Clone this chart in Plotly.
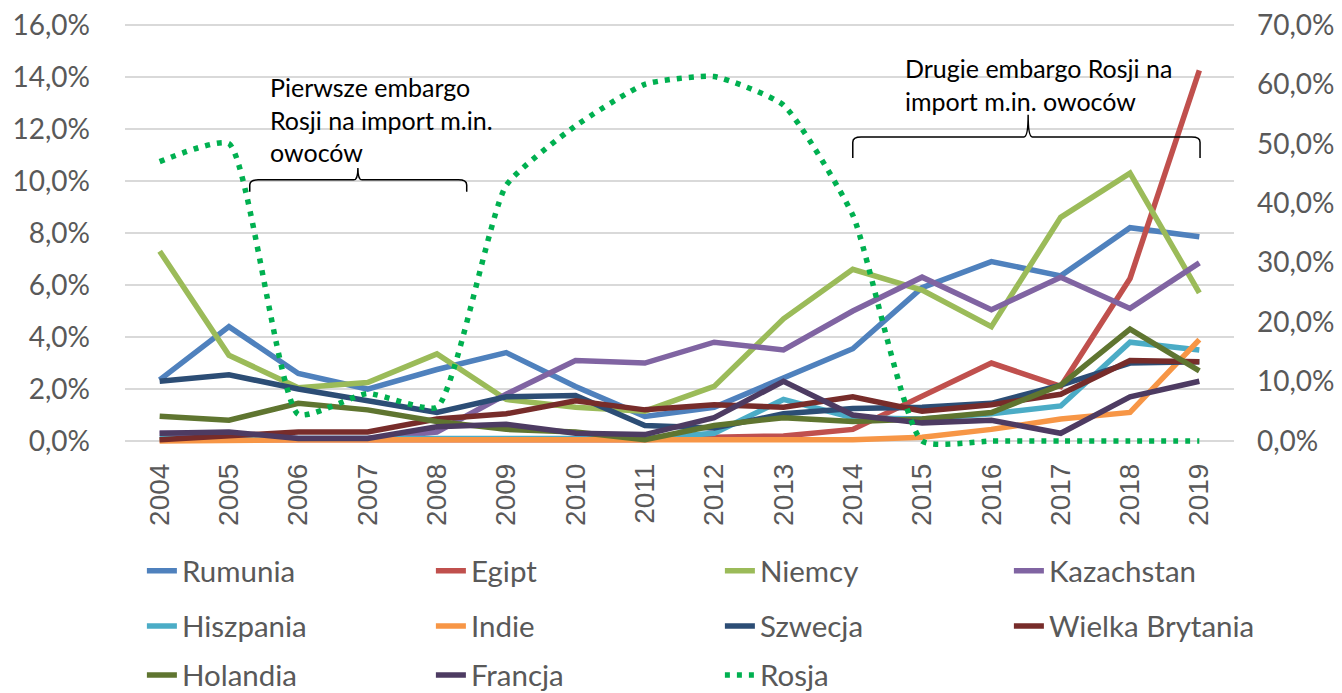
import plotly.graph_objects as go

# ---------------- data ----------------
years = list(range(2004, 2020))
year_labels = [str(y) for y in years]

rumunia = [2.35, 4.4, 2.6, 2.0, 2.75, 3.4, 2.1, 0.95, 1.3, 2.45, 3.55, 5.9, 6.9, 6.35, 8.2, 7.85]
egipt = [0.05, 0.05, 0.05, 0.05, 0.05, 0.05, 0.05, 0.05, 0.15, 0.2, 0.45, 1.75, 3.0, 2.1, 6.25, 14.25]
niemcy = [7.3, 3.3, 2.05, 2.25, 3.35, 1.6, 1.3, 1.15, 2.1, 4.7, 6.6, 5.8, 4.4, 8.6, 10.3, 5.7]
kazachstan = [0.3, 0.3, 0.1, 0.1, 0.35, 1.8, 3.1, 3.0, 3.8, 3.5, 5.0, 6.3, 5.05, 6.3, 5.1, 6.85]
hiszpania = [0.1, 0.1, 0.1, 0.1, 0.1, 0.1, 0.1, 0.1, 0.3, 1.6, 0.9, 0.85, 1.05, 1.35, 3.8, 3.5]
indie = [0.0, 0.05, 0.05, 0.05, 0.05, 0.05, 0.05, 0.05, 0.05, 0.05, 0.05, 0.15, 0.45, 0.85, 1.1, 3.9]
szwecja = [2.3, 2.55, 2.0, 1.55, 1.1, 1.7, 1.75, 0.6, 0.5, 1.05, 1.25, 1.3, 1.45, 2.15, 3.0, 3.05]
wielka_brytania = [0.05, 0.2, 0.35, 0.35, 0.85, 1.05, 1.55, 1.2, 1.4, 1.3, 1.7, 1.15, 1.4, 1.8, 3.1, 3.05]
holandia = [0.95, 0.8, 1.45, 1.2, 0.75, 0.45, 0.35, 0.05, 0.6, 0.9, 0.75, 0.85, 1.1, 2.15, 4.3, 2.7]
francja = [0.3, 0.35, 0.1, 0.1, 0.55, 0.65, 0.3, 0.25, 0.9, 2.3, 1.0, 0.7, 0.8, 0.3, 1.7, 2.3]
rosja = [47.0, 50.0, 4.5, 8.0, 5.7, 43.0, 53.0, 60.0, 61.3, 56.5, 38.0, 0.0, 0.0, 0.0, 0.0, 0.0]

left_ticks = [0, 2, 4, 6, 8, 10, 12, 14, 16]
left_labels = ["0,0%", "2,0%", "4,0%", "6,0%", "8,0%", "10,0%", "12,0%", "14,0%", "16,0%"]
right_ticks = [0, 10, 20, 30, 40, 50, 60, 70]
right_labels = ["0,0%", "10,0%", "20,0%", "30,0%", "40,0%", "50,0%", "60,0%", "70,0%"]

note_first = "Pierwsze embargo<br>Rosji na import m.in.<br>owoców"
note_second = "Drugie embargo Rosji na<br>import m.in. owoców"

# ---------------- styles ----------------
series = [
    ("Rumunia", rumunia, "#4F81BD", "legend"),
    ("Egipt", egipt, "#C0504D", "legend"),
    ("Niemcy", niemcy, "#9BBB59", "legend"),
    ("Kazachstan", kazachstan, "#8064A2", "legend"),
    ("Hiszpania", hiszpania, "#4BACC6", "legend2"),
    ("Indie", indie, "#F79646", "legend2"),
    ("Szwecja", szwecja, "#2C4D75", "legend2"),
    ("Wielka Brytania", wielka_brytania, "#772C2A", "legend2"),
    ("Holandia", holandia, "#5F7530", "legend3"),
    ("Francja", francja, "#4D3B62", "legend3"),
]

fig = go.Figure()
for name, vals, color, leg in series:
    fig.add_trace(go.Scatter(
        x=years, y=vals, name=name, mode="lines",
        line=dict(color=color, width=5.5), legend=leg, yaxis="y",
    ))
fig.add_trace(go.Scatter(
    x=years, y=rosja, name="Rosja", mode="lines",
    line=dict(color="#00B050", width=5.5, dash="5px,7px", shape="spline", smoothing=0.5),
    legend="legend3", yaxis="y2",
))

TICK_COLOR = "#595959"
FONT = "Lato"

# padding below zero so the smoothed Rosja line is not clipped,
# and a little above the top so the top gridline is drawn
R2_MIN = -1.5
R2_MAX = 70
L_MAX = 16
L_MIN = R2_MIN * L_MAX / R2_MAX
EPS = 0.3
PX_PER_UNIT = 416 / L_MAX


def brace(x0, x1, xm, yh, yend, ytip, rx=0.12, ry=0.2):
    return (
        f"M {x0},{yend} L {x0},{yh - ry} Q {x0},{yh} {x0 + rx},{yh} "
        f"L {xm - rx / 2},{yh} Q {xm},{yh} {xm},{ytip} "
        f"Q {xm},{yh} {xm + rx / 2},{yh} "
        f"L {x1 - rx},{yh} Q {x1},{yh} {x1},{yh - ry} L {x1},{yend}"
    )


shapes = [
    dict(type="path", xref="x", yref="y",
         path=brace(2005.30, 2008.43, 2006.86, 10.04, 9.58, 10.5),
         line=dict(color="black", width=1.5)),
    dict(type="path", xref="x", yref="y",
         path=brace(2014.0, 2019.01, 2016.53, 11.69, 10.88, 12.54),
         line=dict(color="black", width=1.5)),
]

annotations = [
    dict(x=2005.57, y=12.35, xref="x", yref="y", text=note_first, showarrow=False,
         xanchor="left", yanchor="middle", align="left",
         font=dict(family=FONT, size=25, color="black")),
    dict(x=2014.73, y=13.7, xref="x", yref="y", text=note_second, showarrow=False,
         xanchor="left", yanchor="middle", align="left",
         font=dict(family=FONT, size=25, color="black")),
]

leg_common = dict(
    orientation="h", x=-0.001, xanchor="left", yanchor="middle",
    font=dict(family=FONT, size=29.5, color=TICK_COLOR),
    entrywidth=226, entrywidthmode="pixels", indentation=18,
    bgcolor="rgba(0,0,0,0)",
)

# page body has an 8px margin: figure is offset by (8, 8)
W, H = 1334, 685
PLOT_L, PLOT_W = 117, 1109
PLOT_T = 17 - EPS * PX_PER_UNIT
PLOT_H = (L_MAX + EPS - L_MIN) * PX_PER_UNIT
BOTTOM_PX = PLOT_T + PLOT_H  # plot bottom in figure px


def legend_y(row_center_px):
    # row centre given in figure px -> paper coordinate
    return (BOTTOM_PX - row_center_px) / PLOT_H


fig.update_layout(
    width=W, height=H,
    margin=dict(l=PLOT_L, r=W - PLOT_L - PLOT_W, t=PLOT_T, b=H - BOTTOM_PX,
                autoexpand=False),
    plot_bgcolor="white", paper_bgcolor="white",
    showlegend=True,
    xaxis=dict(
        range=[2003.5, 2019.5], tickmode="array", tickvals=years, ticktext=year_labels,
        tickangle=-90, showgrid=False, zeroline=False, showline=False, ticks="",
        tickfont=dict(family="Liberation Sans", size=28, color=TICK_COLOR),
        ticklabelstandoff=7, ticklabeloverflow="allow",
    ),
    yaxis=dict(
        range=[L_MIN, L_MAX + EPS], tickmode="array", tickvals=left_ticks, ticktext=left_labels,
        gridcolor="#D9D9D9", gridwidth=1.5, zeroline=False,
        showline=False, ticks="",
        tickfont=dict(family=FONT, size=28, color=TICK_COLOR),
        ticklabelstandoff=34, ticklabeloverflow="allow",
    ),
    yaxis2=dict(
        range=[R2_MIN, R2_MAX + EPS * R2_MAX / L_MAX], tickmode="array",
        tickvals=right_ticks, ticktext=right_labels,
        overlaying="y", side="right", showgrid=False,
        zeroline=False, showline=False, ticks="",
        tickfont=dict(family=FONT, size=28, color=TICK_COLOR),
        ticklabelstandoff=22, ticklabeloverflow="allow",
    ),
    legend=dict(y=legend_y(571 - 8), **leg_common),
    legend2=dict(y=legend_y(626 - 8), **leg_common),
    legend3=dict(y=legend_y(675 - 8), **leg_common),
    shapes=shapes,
    annotations=annotations,
)

fig.write_html("out.html")
